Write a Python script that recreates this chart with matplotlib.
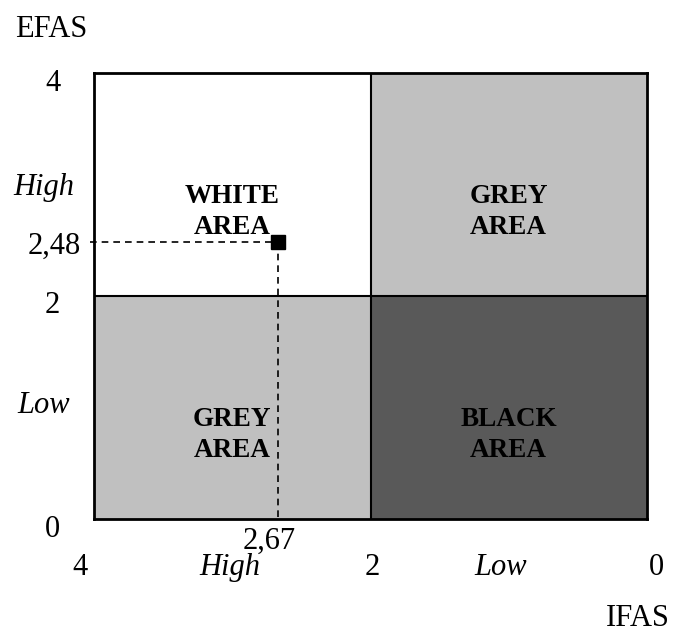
import matplotlib.pyplot as plt
from matplotlib.patches import Rectangle

# quadrant layout: (x0, y0, label, colour)
quad_x = [4, 2, 4, 2]
quad_y = [2, 2, 0, 0]
quad_labels = ['WHITE\nAREA', 'GREY\nAREA', 'GREY\nAREA', 'BLACK\nAREA']
quad_colors = ['#ffffff', '#c0c0c0', '#c0c0c0', '#595959']

ifas = 2.67
efas = 2.48

plt.rcParams['font.family'] = ['Liberation Serif', 'DejaVu Serif']

fig = plt.figure(figsize=(6.77, 6.35), dpi=100)
ax = fig.add_axes([94/677, 116/635, 553/677, 446/635])
ax.set_xlim(4, 0)
ax.set_ylim(0, 4)

for x0, y0, lab, c in zip(quad_x, quad_y, quad_labels, quad_colors):
    ax.add_patch(Rectangle((x0 - 2, y0), 2, 2, facecolor=c, edgecolor='none', zorder=1))
    ax.text(x0 - 1.0, y0 + 0.56, lab, ha='center', va='baseline', multialignment='center',
            fontsize=19.5, fontweight='bold', linespacing=1.3, zorder=3)

ax.axvline(2, color='black', lw=1.5, zorder=2)
ax.axhline(2, color='black', lw=1.5, zorder=2)

# point and guide lines
ax.plot([4.03, ifas], [efas, efas], ls=(0, (4, 3)), color='black', lw=1.2, clip_on=False, zorder=4)
ax.plot([ifas, ifas], [efas, 0], ls=(0, (4, 3)), color='black', lw=1.2, zorder=4)
ax.plot([ifas], [efas], marker='s', ms=10, color='black', zorder=5)

for s in ax.spines.values():
    s.set_linewidth(2)
ax.set_xticks([])
ax.set_yticks([])

fs = 22
# bottom labels
yb = -0.50
ax.text(4.10, yb, '4', ha='center', va='baseline', fontsize=fs, clip_on=False)
ax.text(1.99, yb, '2', ha='center', va='baseline', fontsize=fs, clip_on=False)
ax.text(-0.065, yb, '0', ha='center', va='baseline', fontsize=fs, clip_on=False)
ax.text(3.02, yb, 'High', ha='center', va='baseline', fontsize=fs, style='italic', clip_on=False)
ax.text(1.06, yb, 'Low', ha='center', va='baseline', fontsize=fs, style='italic', clip_on=False)
ax.text(ifas + 0.06, -0.27, f'{ifas:.2f}'.replace('.', ','), ha='center', va='baseline',
        fontsize=fs, clip_on=False)

# left labels
xl = 4.30
ax.text(xl, 3.84, '4', ha='center', va='baseline', fontsize=fs, clip_on=False)
ax.text(xl, 1.85, '2', ha='center', va='baseline', fontsize=fs, clip_on=False)
ax.text(xl, -0.16, '0', ha='center', va='baseline', fontsize=fs, clip_on=False)
ax.text(4.36, 2.91, 'High', ha='center', va='baseline', fontsize=fs, style='italic', clip_on=False)
ax.text(4.365, 0.95, 'Low', ha='center', va='baseline', fontsize=fs, style='italic', clip_on=False)
ax.text(4.094, efas, f'{efas:.2f}'.replace('.', ','), ha='right', va='center_baseline',
        fontsize=fs, clip_on=False)

fig.text(51/677, 1 - 37/635, 'EFAS', ha='center', va='baseline', fontsize=fs)
fig.text(638/677, 1 - 626/635, 'IFAS', ha='center', va='baseline', fontsize=fs)

fig.savefig('out.png', dpi=100)
